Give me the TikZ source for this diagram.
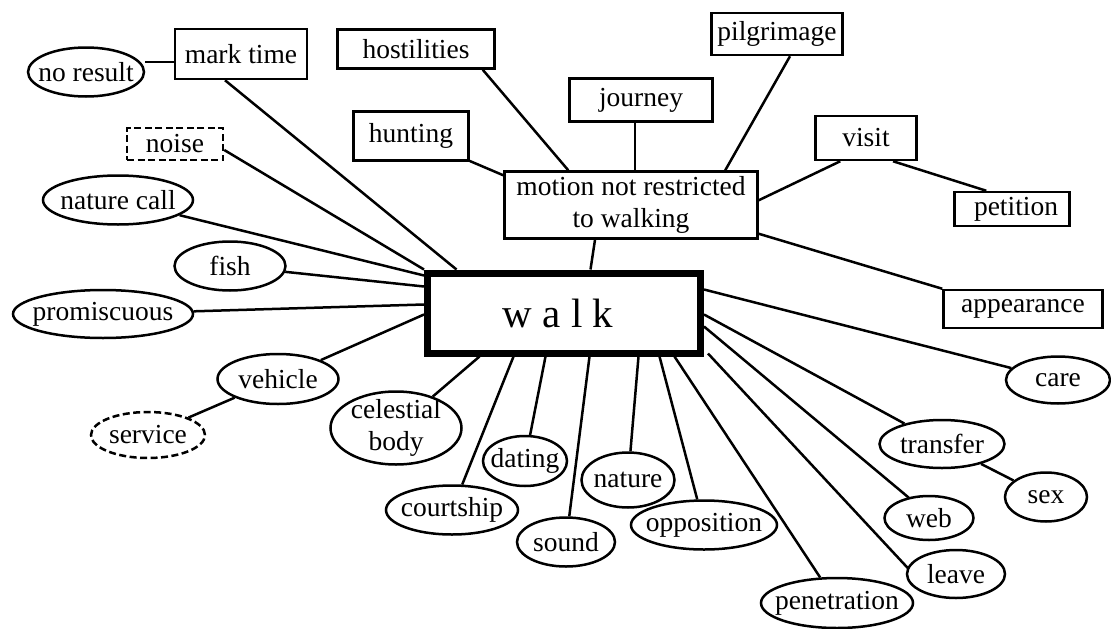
\documentclass[tikz,border=0pt]{standalone}
\usepackage{fontspec}
\setmainfont{Liberation Serif}
\usetikzlibrary{shapes.geometric,calc}
\begin{document}
\begin{tikzpicture}[x=1pt,y=-1pt,
  every node/.style={inner sep=0pt, font=\fontsize{27.5}{32}\selectfont, align=center},
  box/.style={draw, rectangle, line width=2.5pt, fill=white},
  oval/.style={draw, ellipse, line width=2.5pt, fill=white, inner xsep=-40pt, inner ysep=-12pt},
  dashedborder/.style={dash pattern=on 7pt off 3.5pt},
  conn/.style={line width=2.5pt},
]
\useasboundingbox (0,0) rectangle (1111,629);

% central node
\node[draw, rectangle, line width=7pt, minimum width=273pt, minimum height=80pt,
      font=\fontsize{41}{44}\selectfont] (walk) at (564,313) {w a l k\hspace{12pt}};

% rectangles
\node[box, minimum width=132pt, minimum height=50pt] (marktime) at (241,54) {mark time};
\node[box, dashedborder, minimum width=96pt, minimum height=32pt] (noise) at (175,144) {noise};
\node[box, minimum width=157pt, minimum height=39pt] (hostilities) at (416,49) {hostilities};
\node[box, minimum width=143pt, minimum height=43pt] (journey) at (641,100) {journey};
\node[box, minimum width=115pt, minimum height=49pt] (hunting) at (411,136) {hunting};
\node[box, minimum width=253pt, minimum height=67pt] (motion) at (631,205) {motion not restricted\\to walking};
\node[box, minimum width=131pt, minimum height=42pt] (pilgrimage) at (777,34) {pilgrimage};
\node[box, minimum width=101pt, minimum height=44pt] (visit) at (866,138) {visit};
\node[box, minimum width=115pt, minimum height=34pt] (petition) at (1012,209) {\hspace{8pt}petition};
\node[box, minimum width=159pt, minimum height=38pt] (appearance) at (1023,309) {appearance};

% ellipses
\node[oval, minimum width=116pt, minimum height=49pt] (noresult) at (86,72) {no result};
\node[oval, minimum width=150pt, minimum height=49pt] (naturecall) at (118,200) {nature call};
\node[oval, minimum width=111pt, minimum height=49pt] (fish) at (230,266) {fish};
\node[oval, minimum width=180pt, minimum height=48pt] (promiscuous) at (103,314) {promiscuous};
\node[oval, minimum width=121pt, minimum height=50pt] (vehicle) at (278,379) {vehicle};
\node[oval, dashedborder, minimum width=114pt, minimum height=46pt] (service) at (148,435) {service};
\node[oval, minimum width=131pt, minimum height=73pt] (celestial) at (396,428) {celestial\\body};
\node[oval, minimum width=84pt, minimum height=50pt] (dating) at (525,461) {dating};
\node[oval, minimum width=132pt, minimum height=49pt] (courtship) at (452,510) {courtship};
\node[oval, minimum width=98pt, minimum height=49pt] (sound) at (566,542) {sound};
\node[oval, minimum width=93pt, minimum height=55pt] (nature) at (628,480) {nature};
\node[oval, minimum width=146pt, minimum height=49pt] (opposition) at (704,525) {opposition};
\node[oval, minimum width=152pt, minimum height=50pt] (penetration) at (837,603) {penetration};
\node[oval, minimum width=98pt, minimum height=48pt] (leave) at (956,574) {leave};
\node[oval, minimum width=89pt, minimum height=44pt] (web) at (929,518) {web};
\node[oval, minimum width=125pt, minimum height=48pt] (transfer) at (942,444) {transfer};
\node[oval, minimum width=82pt, minimum height=49pt] (sex) at (1046,497) {sex};
\node[oval, minimum width=104pt, minimum height=47pt] (care) at (1058,380) {care};

% connectors to walk: left and top
\draw[conn] ($(marktime.south)+(-16,0)$) -- ($(walk.north west)+(32.5,0)$);
\draw[conn] ($(noise.east)+(0,6)$) -- (walk.north west);
\draw[conn] (naturecall) -- ($(walk.north west)+(0,6)$);
\draw[conn] (fish) -- ($(walk.north west)+(0,17)$);
\draw[conn] (promiscuous) -- ($(walk.north west)+(0,35)$);
\draw[conn] (vehicle) -- ($(walk.north west)+(0,45)$);
\draw[conn] ($(motion.south)+(-36,0)$) -- ($(walk.north west)+(166.5,0)$);
% bottom
\draw[conn] (celestial) -- ($(walk.south west)+(55.5,0)$);
\draw[conn] (courtship) -- ($(walk.south west)+(89.5,0)$);
\draw[conn] (dating) -- ($(walk.south west)+(121.5,0)$);
\draw[conn] (sound) -- ($(walk.south west)+(165.5,0)$);
\draw[conn] (nature) -- ($(walk.south west)+(214.5,0)$);
\draw[conn] (opposition) -- ($(walk.south west)+(235.5,0)$);
\draw[conn] (penetration) -- ($(walk.south west)+(250.5,0)$);
% right
\draw[conn] ($(leave.west)+(2,-6)$) -- ($(walk.south east)+(4,-3)$);
\draw[conn] ($(web.north west)+(12,-4)$) -- ($(walk.north east)+(0,57)$);
\draw[conn] (transfer) -- ($(walk.north east)+(0,45)$);
\draw[conn] (care) -- ($(walk.north east)+(0,20)$);

% secondary connectors
\draw[conn] ($(marktime.west)+(0,8)$) coordinate (m1) -- (noresult.east |- m1);
\draw[conn] (service) -- (vehicle);
\draw[conn] (sex) -- (transfer);
\draw[conn] (hunting) -- ($(motion.north west)+(0,5)$);
\draw[conn] ($(hostilities.south east)+(-13,0)$) -- ($(motion.north west)+(65,0)$);
\draw[conn] ($(journey.south)+(-6,0)$) coordinate (j1) -- (j1 |- motion.north);
\draw[conn] ($(pilgrimage.south)+(13,0)$) -- ($(motion.north west)+(222,0)$);
\draw[conn] ($(visit.south west)+(26,0)$) -- ($(motion.north east)+(0,30)$);
\draw[conn] ($(visit.south)+(27,0)$) -- ($(petition.north west)+(33,0)$);
\draw[conn] ($(motion.south east)+(0,-6)$) -- (appearance.north west);
\end{tikzpicture}
\end{document}
